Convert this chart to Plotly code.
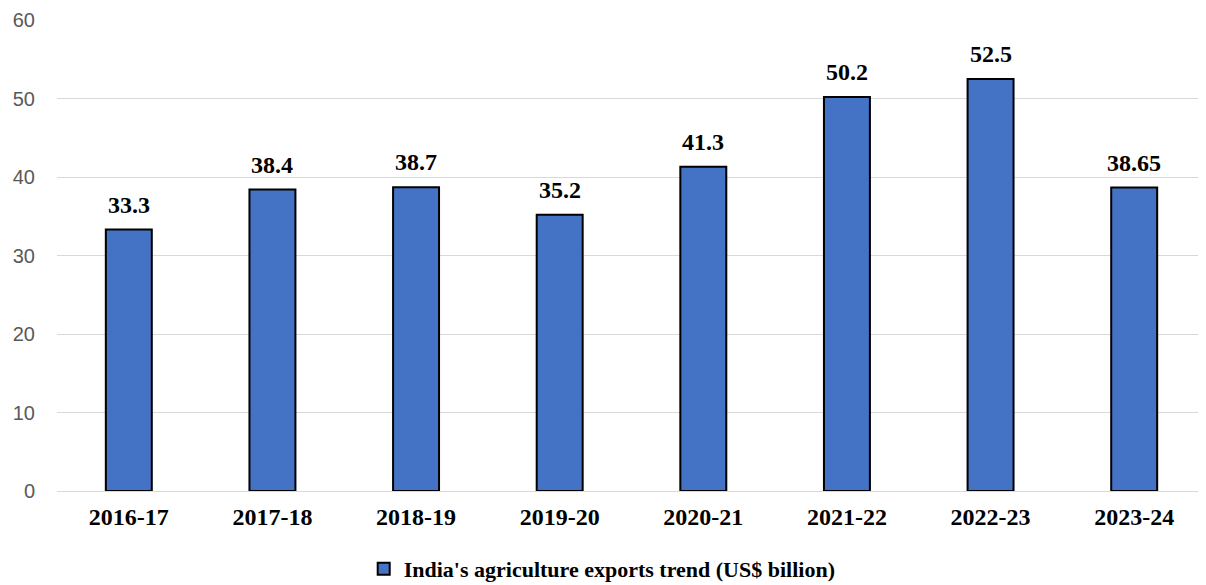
import plotly.graph_objects as go

years = ["2016-17", "2017-18", "2018-19", "2019-20", "2020-21", "2021-22", "2022-23", "2023-24"]
exports = [33.3, 38.4, 38.7, 35.2, 41.3, 50.2, 52.5, 38.65]
labels = ["33.3", "38.4", "38.7", "35.2", "41.3", "50.2", "52.5", "38.65"]
series_name = "India's agriculture exports trend (US$ billion)"

fig = go.Figure()
fig.add_trace(go.Bar(
    x=years, y=exports, name=series_name,
    marker=dict(color="#4472C4", line=dict(color="black", width=2)),
    showlegend=True,
))

for yr, v, lab in zip(years, exports, labels):
    fig.add_annotation(
        x=yr, y=v, text=lab, showarrow=False, yanchor="bottom", yshift=10,
        font=dict(family="Liberation Serif", size=24, color="black", weight="bold"),
    )

# page body has an 8px default margin; size the figure so it fits the 1206x585 window
fig.update_layout(
    width=1198, height=577,
    margin=dict(l=49, r=0, t=12, b=94),
    plot_bgcolor="white", paper_bgcolor="white",
    bargap=0.68,
    xaxis=dict(
        showgrid=False, showline=False, ticks="", automargin=False,
        tickfont=dict(family="Liberation Serif", size=24, color="black", weight="bold"),
        range=[-0.5, 7.5], ticklabelstandoff=9,
    ),
    yaxis=dict(
        range=[0, 60], dtick=10, showgrid=True, gridcolor="#D9D9D9", gridwidth=1.3,
        zeroline=True, zerolinecolor="#D9D9D9", zerolinewidth=1.3, automargin=False,
        tickfont=dict(family="Liberation Sans", size=20, color="#595959"),
        ticks="", ticklabelstandoff=21,
    ),
    legend=dict(
        orientation="h", x=0.4745, xanchor="center",
        yref="container", y=0.028, yanchor="middle",
        font=dict(family="Liberation Serif", size=22, color="black", weight="bold"),
        itemwidth=30,
    ),
)

fig.write_html("out.html")
